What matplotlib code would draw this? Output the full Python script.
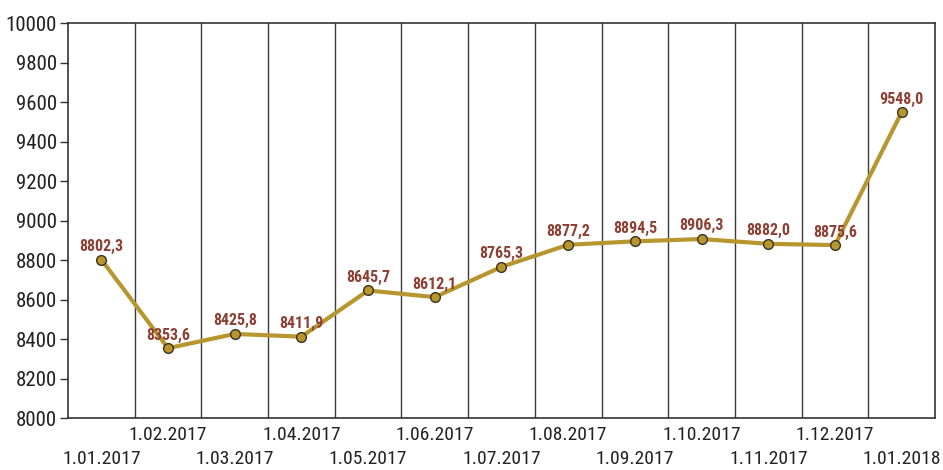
import matplotlib.pyplot as plt
from matplotlib import font_manager
from matplotlib.font_manager import FontProperties

dates = ["1.01.2017", "1.02.2017", "1.03.2017", "1.04.2017", "1.05.2017",
         "1.06.2017", "1.07.2017", "1.08.2017", "1.09.2017", "1.10.2017",
         "1.11.2017", "1.12.2017", "1.01.2018"]
values = [8802.3, 8353.6, 8425.8, 8411.9, 8645.7, 8612.1, 8765.3,
          8877.2, 8894.5, 8906.3, 8882.0, 8875.6, 9548.0]
y_ticks = [8000, 8200, 8400, 8600, 8800, 9000, 9200, 9400, 9600, 9800, 10000]


def find_font(bold=False):
    # look for a narrow / condensed face, otherwise plain DejaVu Sans
    files = [f.fname for f in font_manager.fontManager.ttflist]
    prefs = ["LiberationSansNarrow", "RobotoCondensed", "OpenSans_Condensed",
             "OpenSansCondensed", "DejaVuSansCondensed"]
    for p in prefs:
        for fn in files:
            base = fn.split("/")[-1].replace("-", "").replace(" ", "")
            if base.startswith(p):
                rest = base[len(p):].lower()
                if bold and rest.startswith("bold") and "italic" not in rest:
                    return FontProperties(fname=fn)
                if not bold and (rest.startswith("regular") or rest.startswith(".ttf")):
                    return FontProperties(fname=fn)
    return FontProperties(family="DejaVu Sans", stretch="condensed",
                          weight="bold" if bold else "normal")


fp = find_font()
fpb = find_font(bold=True)

line_col = "#b8962e"
lab_col = "#8e3f33"
txt_col = "#222222"

fig = plt.figure(figsize=(9.43, 4.70), dpi=100)
ax = fig.add_axes([0.0721, 0.1106, 0.9194, 0.8404])

x = list(range(len(values)))
ax.plot(x, values, color=line_col, lw=3, zorder=3,
        marker="o", ms=7, mfc=line_col, mec="#3a3020", mew=1)

for i, v in enumerate(values):
    ax.annotate(f"{v:.1f}".replace(".", ","), (i, v), xytext=(0, 4),
                textcoords="offset points", ha="center", va="bottom",
                color=lab_col, fontproperties=fpb, fontsize=11.5, zorder=4)

# vertical lines between months
for b in range(len(values) - 1):
    ax.axvline(b + 0.5, color="#3a3a3a", lw=1, zorder=1)

ax.set_xlim(-0.5, len(values) - 0.5)
ax.set_ylim(8000, 10000)
ax.set_yticks(y_ticks)
ax.set_yticklabels([str(t) for t in y_ticks], color=txt_col)
for lab in ax.get_yticklabels():
    lab.set_fontproperties(fp)
    lab.set_fontsize(15)
ax.tick_params(axis="y", length=6, width=1, color="#333333", pad=2)

ax.set_xticks([])
for i, d in enumerate(dates):
    ax.annotate(d, (i, 0), xycoords=("data", "axes fraction"),
                xytext=(0, -23 if i % 2 == 0 else -6), textcoords="offset points",
                ha="center", va="top", fontproperties=fp, fontsize=14,
                color=txt_col)

for s in ax.spines.values():
    s.set_color("#333333")
    s.set_linewidth(1.2)

fig.savefig("out.png", dpi=100)
